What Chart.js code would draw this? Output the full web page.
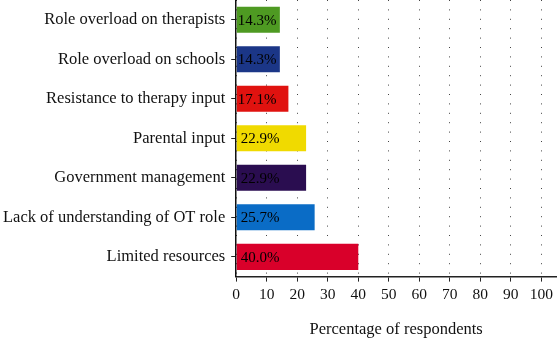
<!DOCTYPE html>
<html>
<head>
<meta charset="utf-8">
<script src="https://cdn.jsdelivr.net/npm/chart.js@4/dist/chart.umd.min.js"></script>
<style>
    html, body { margin: 0; padding: 0; background: #fff; }
    #wrap { width: 557px; height: 339px; position: relative; }
</style>
</head>
<body>
<div id="wrap"><canvas id="barrierChart"></canvas></div>
<script>
// Barriers reported, top to bottom as in the figure
const categories = [
    'Role overload on therapists',
    'Role overload on schools',
    'Resistance to therapy input',
    'Parental input',
    'Government management',
    'Lack of understanding of OT role',
    'Limited resources'
];
const percentages = [14.3, 14.3, 17.1, 22.9, 22.9, 25.7, 40.0];
const barColors = ['#4e9a22', '#1b3687', '#e0120f', '#f0da00', '#2a0d50', '#0a6cc6', '#d9002a'];
const xTickStep = 10;

const serif = '"Liberation Serif", "DejaVu Serif", serif';

// Draws the "xx.x%" label just inside the start of each bar
const valueLabels = {
    id: 'valueLabels',
    afterDatasetsDraw(chart) {
        const ctx = chart.ctx;
        const meta = chart.getDatasetMeta(0);
        ctx.save();
        ctx.font = '15px ' + serif;
        ctx.fillStyle = '#000';
        ctx.textAlign = 'left';
        ctx.textBaseline = 'middle';
        meta.data.forEach((bar, i) => {
            const pad = percentages[i] >= 20 ? 4 : 1;
            ctx.fillText(percentages[i].toFixed(1) + '%', bar.base + pad, bar.y + 1);
        });
        ctx.restore();
    }
};

new Chart(document.getElementById('barrierChart'), {
    type: 'bar',
    data: {
        labels: categories,
        datasets: [{
            data: percentages,
            backgroundColor: barColors,
            borderWidth: 0,
            categoryPercentage: 1,
            barPercentage: 0.66
        }]
    },
    options: {
        indexAxis: 'y',
        responsive: true,
        maintainAspectRatio: false,
        animation: false,
        layout: { padding: { top: 0, right: 0, left: -3, bottom: -1 } },
        plugins: {
            legend: { display: false },
            tooltip: { enabled: false }
        },
        scales: {
            x: {
                min: 0,
                max: 104.8,
                ticks: {
                    stepSize: xTickStep,
                    includeBounds: false,
                    color: '#111',
                    padding: 4,
                    font: { family: serif, size: 15.5 }
                },
                grid: {
                    color: '#444',
                    lineWidth: 1,
                    tickLength: 5,
                    tickColor: '#222'
                },
                border: { display: true, color: '#222', width: 1.5, dash: [1, 8.4] },
                title: {
                    display: true,
                    text: 'Percentage of respondents',
                    color: '#111',
                    font: { family: serif, size: 16.5 },
                    padding: { top: 12, bottom: 0 }
                }
            },
            y: {
                afterFit(scale) {
                    // let the bars start right at the top edge
                    scale.paddingTop = 0;
                    scale.paddingBottom = 0;
                },
                ticks: {
                    color: '#111',
                    padding: 6,
                    font: { family: serif, size: 16.5 }
                },
                grid: {
                    offset: false,
                    drawOnChartArea: false,
                    tickLength: 5,
                    tickColor: '#222'
                },
                border: { display: true, color: '#111', width: 1.5 }
            }
        }
    },
    plugins: [valueLabels]
});
</script>
</body>
</html>
